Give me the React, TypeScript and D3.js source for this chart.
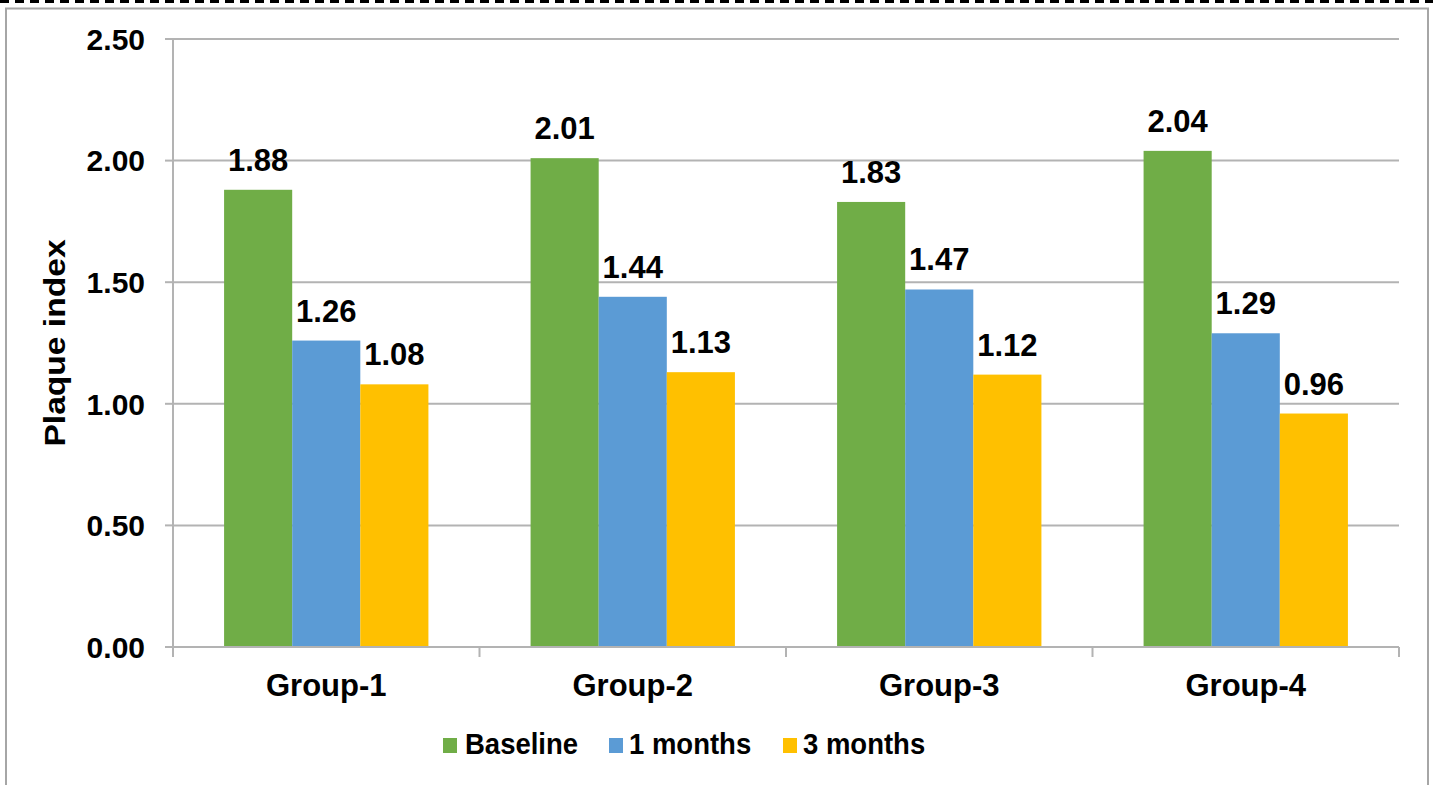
import React from "react";
import * as d3 from "d3";

const groups = ["Group-1", "Group-2", "Group-3", "Group-4"];
const seriesNames = ["Baseline", "1 months", "3 months"];
const baseline = [1.88, 2.01, 1.83, 2.04];
const oneMonth = [1.26, 1.44, 1.47, 1.29];
const threeMonths = [1.08, 1.13, 1.12, 0.96];
const seriesColors = ["#70AD47", "#5B9BD5", "#FFC000"];
const yTicks = [0, 0.5, 1, 1.5, 2, 2.5];

const W = 1433;
const H = 785;
const FONT = "'Liberation Sans', Arial, sans-serif";

export default function App() {
  const series = [baseline, oneMonth, threeMonths];
  const plot = { left: 173, right: 1399, top: 39, bottom: 647 };

  const y = d3.scaleLinear().domain([0, 2.5]).range([plot.bottom, plot.top]);
  const x0 = d3
    .scaleBand<string>()
    .domain(groups)
    .range([plot.left, plot.right])
    .paddingInner(0)
    .paddingOuter(0);
  const bandW = x0.bandwidth();
  // clustered bars with a 150% gap between clusters
  const barW = bandW / (seriesNames.length + 1.5);
  const x1 = d3
    .scaleBand<number>()
    .domain(d3.range(seriesNames.length))
    .range([(bandW - barW * seriesNames.length) / 2, (bandW + barW * seriesNames.length) / 2]);

  const grid = "#B3B3B3";
  const fmt = d3.format(".2f");

  const legendItems = [
    { sq: 443, tx: 465 },
    { sq: 609, tx: 629 },
    { sq: 783, tx: 803 },
  ];

  return (
    <svg
      width={W}
      height={H}
      style={{ position: "absolute", left: 0, top: 0, background: "#fff" }}
      fontFamily={FONT}
      fontWeight="bold"
    >
      <rect x={0} y={0} width={W} height={H} fill="#fff" />
      {/* dashed top border */}
      <line x1={0} x2={W} y1={1.5} y2={1.5} stroke="#000" strokeWidth={3} strokeDasharray="9 6" />
      {/* chart frame */}
      <rect x={6} y={8.5} width={1422} height={H + 20} fill="none" stroke="#A6A6A6" strokeWidth={2} />

      {/* gridlines and y ticks */}
      {yTicks.map((t) => (
        <g key={t}>
          <line x1={plot.left} x2={plot.right} y1={y(t)} y2={y(t)} stroke={grid} strokeWidth={2} />
          <line x1={165} x2={plot.left} y1={y(t)} y2={y(t)} stroke={grid} strokeWidth={2} />
          <text x={145} y={y(t)} dy="0.36em" textAnchor="end" fontSize={30} fill="#000">
            {fmt(t)}
          </text>
        </g>
      ))}
      {/* y axis line */}
      <line x1={plot.left} x2={plot.left} y1={plot.top} y2={plot.bottom + 10} stroke={grid} strokeWidth={2} />

      {/* bars */}
      {series.map((vals, si) =>
        vals.map((v, gi) => {
          const bx = (x0(groups[gi]) as number) + (x1(si) as number);
          return (
            <rect
              key={`${si}-${gi}`}
              x={bx}
              y={y(v)}
              width={barW}
              height={y(0) - y(v)}
              fill={seriesColors[si]}
            />
          );
        })
      )}

      {/* x axis */}
      <line x1={plot.left} x2={plot.right} y1={plot.bottom} y2={plot.bottom} stroke={grid} strokeWidth={2} />
      {groups.map((g, i) => (
        <line
          key={g}
          x1={(x0(g) as number) + bandW}
          x2={(x0(g) as number) + bandW}
          y1={plot.bottom}
          y2={plot.bottom + 10}
          stroke={grid}
          strokeWidth={2}
        />
      ))}

      {/* value labels */}
      {series.map((vals, si) =>
        vals.map((v, gi) => {
          const cx = (x0(groups[gi]) as number) + (x1(si) as number) + barW / 2;
          return (
            <text key={`l${si}-${gi}`} x={cx} y={y(v) - 19} textAnchor="middle" fontSize={31} fill="#000">
              {fmt(v)}
            </text>
          );
        })
      )}

      {/* category labels */}
      {groups.map((g) => (
        <text
          key={`c${g}`}
          x={(x0(g) as number) + bandW / 2}
          y={696}
          textAnchor="middle"
          fontSize={31}
          fill="#000"
        >
          {g}
        </text>
      ))}

      {/* y axis title */}
      <text
        transform={`translate(65,${(plot.top + plot.bottom) / 2}) rotate(-90) scale(1.12,1)`}
        textAnchor="middle"
        fontSize={30}
        fill="#000"
      >
        Plaque index
      </text>

      {/* legend */}
      {seriesNames.map((name, i) => (
        <g key={name}>
          <rect x={legendItems[i].sq} y={738} width={14} height={15} fill={seriesColors[i]} />
          <text
            transform={`translate(${legendItems[i].tx},754) scale(1,1.1)`}
            fontSize={27.5}
            fill="#000"
          >
            {name}
          </text>
        </g>
      ))}
    </svg>
  );
}
